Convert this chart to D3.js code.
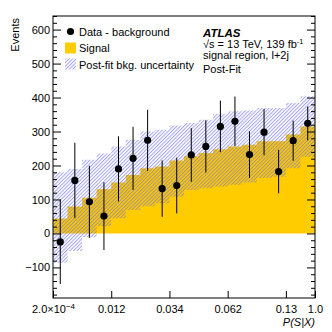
<!DOCTYPE html>
<html>
<head>
<meta charset="utf-8">
<script src="https://cdn.jsdelivr.net/npm/d3@7"></script>
<style>
  body { margin: 0; background: #fff; }
  svg text { font-family: "Liberation Sans", Arial, Helvetica, sans-serif; }
</style>
</head>
<body>
<div id="chart"></div>
<script>
// per-bin values, 18 equal-width bins in P(S|X)
var dataValues = [-25, 156, 93, 51, 190, 221, 274, 132, 141, 231, 256, 315, 330, 232, 298, 182, 273, 324]
var dataErrors = [124, 111, 106, 100, 96, 93, 90, 83, 82, 79, 77, 76, 73, 69, 68, 64, 59, 50]
var signalValues = [44, 79, 105, 130, 150, 172, 192, 197, 215, 227, 237, 248, 256, 261, 271, 271, 291, 315]
var bandLow = [-86, -52, -11, 22, 45, 69, 80, 89, 108, 128, 133, 138, 143, 150, 163, 167, 192, 226]
var bandHigh = [180, 190, 217, 235, 256, 276, 300, 305, 318, 325, 335, 352, 360, 362, 369, 369, 384, 404]
var tickEdges = [0, 4, 8, 12, 16, 18]
var tickLabels = ["2.0×10", "0.012", "0.034", "0.062", "0.13", "1.0"]
var yMajor = [-100, 0, 100, 200, 300, 400, 500, 600]

var W = 332, H = 332
var margin = { left: 53, right: 17, top: 16, bottom: 34 }
var width = W - margin.left - margin.right,
    height = H - margin.top - margin.bottom
var nBins = dataValues.length

var svg = d3.select("#chart").append("svg")
    .attr("width", W)
    .attr("height", H)

var defs = svg.append("defs")
defs.append("pattern")
    .attr("id", "hatch")
    .attr("patternUnits", "userSpaceOnUse")
    .attr("width", 2.5)
    .attr("height", 10)
    .attr("patternTransform", "rotate(45)")
  .append("line")
    .attr("x1", 0.5).attr("y1", 0)
    .attr("x2", 0.5).attr("y2", 10)
    .attr("stroke", "#6a6aea")
    .attr("stroke-width", 1)
    .attr("stroke-opacity", 0.62)

var g = svg.append("g")
    .attr("transform", "translate(" + margin.left + "," + margin.top + ")")

var x = d3.scaleLinear().domain([0, nBins]).range([0, width])
var y = d3.scaleLinear().domain([-190, 640]).range([height, 0])

// step helpers: repeat last bin value at the right edge
function steps(arr){
    return arr.concat([arr[arr.length - 1]])
}

var sigSteps = steps(signalValues)
var signalArea = d3.area()
    .curve(d3.curveStepAfter)
    .x(function(d, i){ return x(i) })
    .y0(y(0))
    .y1(function(d){ return y(d) })

g.append("path")
    .datum(sigSteps)
    .attr("d", signalArea)
    .attr("fill", "#ffcc00")

var lowSteps = steps(bandLow), highSteps = steps(bandHigh)
var bandArea = d3.area()
    .curve(d3.curveStepAfter)
    .x(function(d, i){ return x(i) })
    .y0(function(d, i){ return y(lowSteps[i]) })
    .y1(function(d, i){ return y(highSteps[i]) })

g.append("path")
    .datum(highSteps)
    .attr("d", bandArea)
    .attr("fill", "url(#hatch)")

// data points with errors
var pts = g.selectAll(".pt")
    .data(dataValues)
    .enter().append("g")
    .attr("class", "pt")

pts.append("line")
    .attr("x1", function(d, i){ return x(i + 0.5) })
    .attr("x2", function(d, i){ return x(i + 0.5) })
    .attr("y1", function(d, i){ return y(d - dataErrors[i]) })
    .attr("y2", function(d, i){ return y(d + dataErrors[i]) })
    .attr("stroke", "#000")
    .attr("stroke-width", 1)

pts.append("circle")
    .attr("cx", function(d, i){ return x(i + 0.5) })
    .attr("cy", function(d){ return y(d) })
    .attr("r", 3.6)
    .attr("fill", "#000")

// axes
var yMinor = d3.range(-180, 641, 20).filter(function(v){ return yMajor.indexOf(v) < 0 })

g.append("g")
    .call(d3.axisLeft(y).tickValues(yMinor).tickSize(-4).tickFormat(""))
g.append("g")
    .attr("class", "yaxis")
    .call(d3.axisLeft(y).tickValues(yMajor).tickSize(-8).tickPadding(3)
        .tickFormat(function(d){ return d < 0 ? "\u2212" + Math.abs(d) : d }))
g.append("g")
    .attr("transform", "translate(" + width + ",0)")
    .call(d3.axisRight(y).tickValues(yMinor).tickSize(-4).tickFormat(""))
g.append("g")
    .attr("transform", "translate(" + width + ",0)")
    .call(d3.axisRight(y).tickValues(yMajor).tickSize(-8).tickFormat(""))

var xAxis = g.append("g")
    .attr("class", "xaxis")
    .attr("transform", "translate(0," + height + ")")
    .call(d3.axisBottom(x).tickValues(tickEdges).tickSize(-7).tickPadding(7)
        .tickFormat(function(d, i){ return tickLabels[i] }))

xAxis.select(".tick text")
  .append("tspan")
    .attr("dy", -4)
    .attr("font-size", 8)
    .text("\u22124")

g.selectAll(".domain").remove()
g.selectAll(".tick line").attr("stroke", "#000")
g.selectAll(".tick text")
    .attr("fill", "#000")
    .attr("font-size", 11)

g.append("rect")
    .attr("width", width)
    .attr("height", height)
    .attr("fill", "none")
    .attr("stroke", "#000")
    .attr("stroke-width", 1)

// axis titles
svg.append("text")
    .attr("transform", "translate(19,18) rotate(-90)")
    .attr("text-anchor", "end")
    .attr("font-size", 11)
    .text("Events")

svg.append("text")
    .attr("x", 315)
    .attr("y", 326)
    .attr("text-anchor", "end")
    .attr("font-size", 11)
    .attr("font-style", "italic")
    .text("P(S|X)")

// legend
var leg = svg.append("g")
leg.append("circle").attr("cx", 70.5).attr("cy", 31.5).attr("r", 3.6).attr("fill", "#000")
leg.append("text").attr("x", 79).attr("y", 35.5).attr("font-size", 11).text("Data - background")
leg.append("rect").attr("x", 65).attr("y", 42.5).attr("width", 11).attr("height", 11).attr("fill", "#ffcc00")
leg.append("text").attr("x", 79).attr("y", 52).attr("font-size", 11).text("Signal")
leg.append("rect").attr("x", 65).attr("y", 58.5).attr("width", 11).attr("height", 11).attr("fill", "url(#hatch)")
leg.append("text").attr("x", 79).attr("y", 68.5).attr("font-size", 11).text("Post-fit bkg. uncertainty")

// ATLAS label
var lab = svg.append("g")
lab.append("text").attr("x", 203).attr("y", 36.5).attr("font-size", 11.5)
    .attr("font-weight", "bold").attr("font-style", "italic").text("ATLAS")
var e = lab.append("text").attr("x", 203).attr("y", 48).attr("font-size", 11)
e.append("tspan").text("\u221as = 13 TeV, 139 fb")
e.append("tspan").attr("dy", -4).attr("font-size", 7.5).text("-1")
lab.append("text").attr("x", 203).attr("y", 58.5).attr("font-size", 11).text("signal region, l+2j")
lab.append("text").attr("x", 203).attr("y", 73).attr("font-size", 11).text("Post-Fit")
</script>
</body>
</html>
